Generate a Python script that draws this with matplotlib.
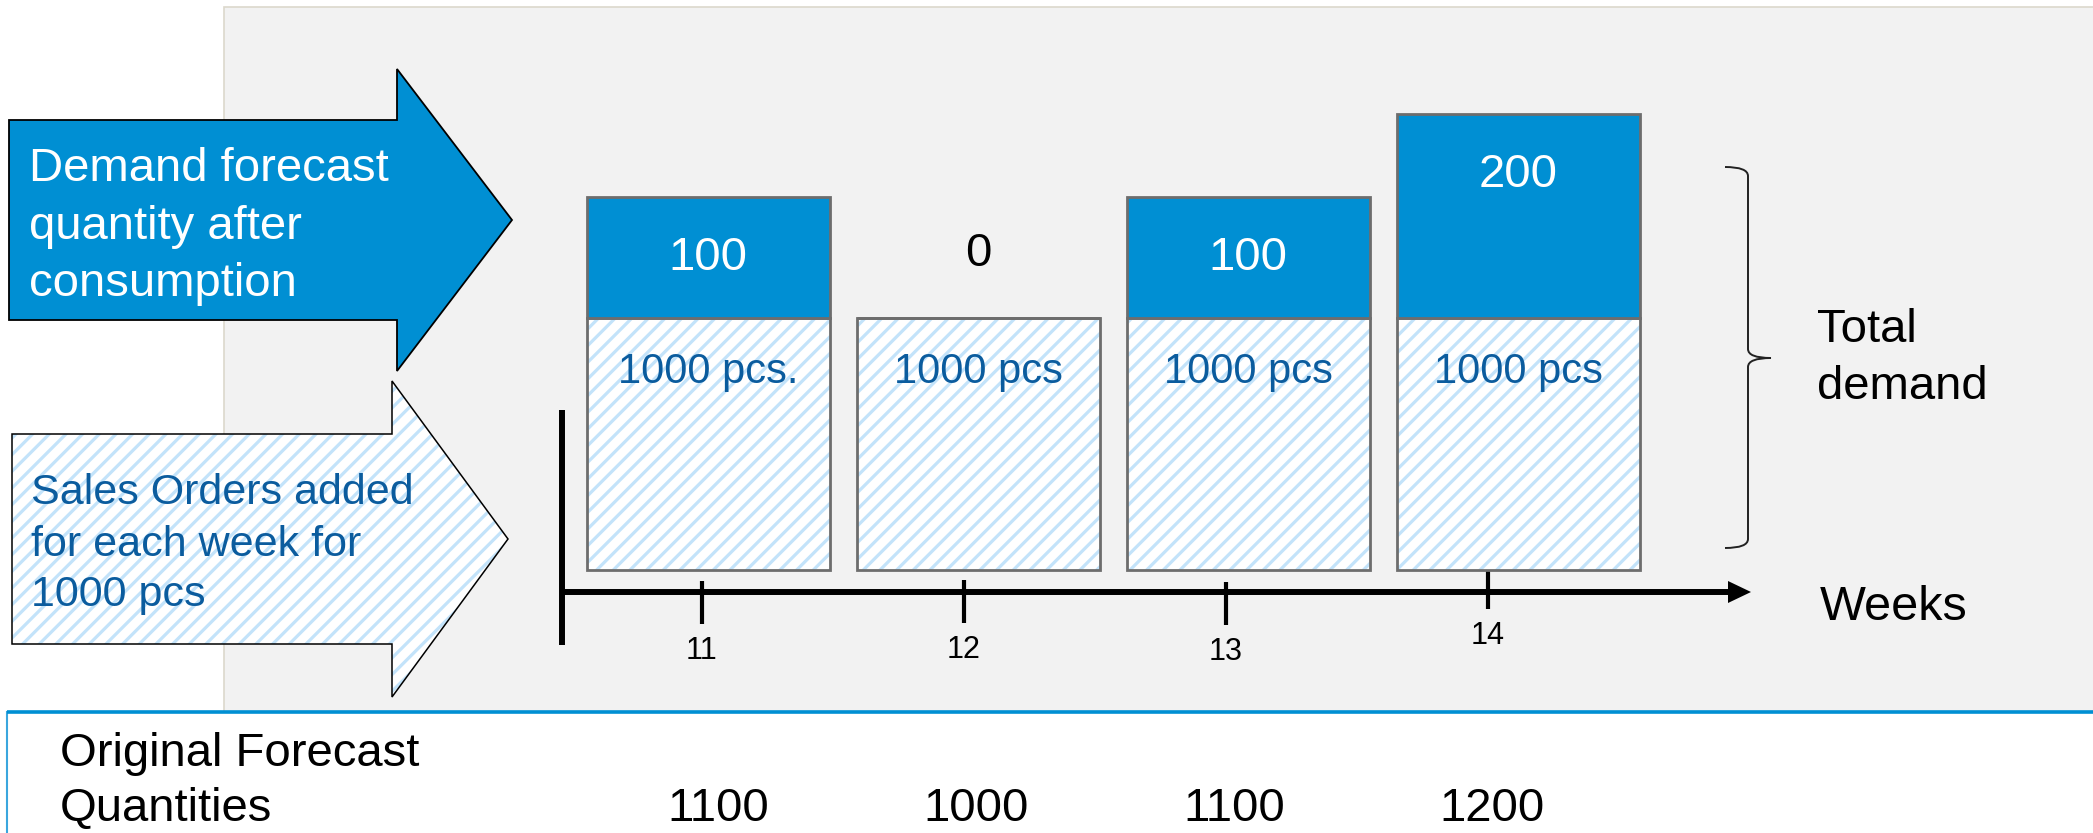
import numpy as np
import matplotlib
matplotlib.use('Agg')
import matplotlib.pyplot as plt
from matplotlib.patches import Polygon, Rectangle, PathPatch
from matplotlib.path import Path

plt.rcParams['font.family'] = ['Liberation Sans', 'DejaVu Sans']
plt.rcParams['hatch.linewidth'] = 2.3

# data
weeks = [11, 12, 13, 14]
sales_orders = [1000, 1000, 1000, 1000]
forecast_left = [100, 0, 100, 200]
sales_labels = ['1000 pcs.', '1000 pcs', '1000 pcs', '1000 pcs']
original_forecast = [1100, 1000, 1100, 1200]

BLUE = '#008fd3'
TEXT_BLUE = '#0b5c9e'
HATCH = '#c3e3fa'
EDGE = '#6d6d6d'

W, H = 2093, 833
fig = plt.figure(figsize=(W / 100, H / 100), dpi=100)
fig.patch.set_facecolor('white')

# pixel axes for the diagram parts
ax = fig.add_axes([0, 0, 1, 1], zorder=0)
ax.set_xlim(0, W)
ax.set_ylim(H, 0)
ax.axis('off')

# grey panel + bottom box
ax.add_patch(Rectangle((224, 7), W, 720, facecolor='#f2f2f2', edgecolor='#dcd8cc', lw=1.2))
ax.add_patch(Rectangle((7, 712), W, 140, facecolor='white', edgecolor='#3aa6de', lw=1.5, zorder=3))
ax.plot([7, W], [712, 712], color=BLUE, lw=2.6, zorder=4, solid_capstyle='butt')

# big arrows
top_arrow = [(9, 120), (397, 120), (397, 69), (512, 220), (397, 371), (397, 320), (9, 320)]
ax.add_patch(Polygon(top_arrow, closed=True, facecolor=BLUE, edgecolor='black', lw=1.3, zorder=1))
low_arrow = [(12, 434), (392, 434), (392, 381), (508, 539), (392, 697), (392, 644), (12, 644)]
ax.add_patch(Polygon(low_arrow, closed=True, facecolor='white', edgecolor='none', zorder=1))
ax.add_patch(Polygon(low_arrow, closed=True, facecolor='none', edgecolor=HATCH, hatch='//', lw=0, zorder=1))
ax.add_patch(Polygon(low_arrow, closed=True, facecolor='none', edgecolor='black', lw=1.1, zorder=1))

for txt, yb in zip(['Demand forecast', 'quantity after', 'consumption'], [181, 239, 296]):
    ax.text(29, yb, txt, color='white', fontsize=34, va='baseline', ha='left', zorder=2)
for txt, yb in zip(['Sales Orders added', 'for each week for', '1000 pcs'], [504, 556, 606]):
    ax.text(31, yb, txt, color=TEXT_BLUE, fontsize=31, va='baseline', ha='left', zorder=2)

# time axis
ax.plot([562, 562], [410, 645], color='black', lw=4.3, solid_capstyle='butt')
ax.plot([562, 1732], [592, 592], color='black', lw=4.3, solid_capstyle='butt')
ax.add_patch(Polygon([(1728, 581), (1751, 592), (1728, 603)], closed=True, facecolor='black', edgecolor='none'))
tick_top = [581, 580, 582, 566]
for i, wk in enumerate(weeks):
    tx = 702 + i * 262
    ax.plot([tx, tx], [tick_top[i], tick_top[i] + 43], color='black', lw=3, solid_capstyle='butt')
    ax.text(tx, tick_top[i] + 70, str(wk), fontsize=22, ha='center', va='center')
ax.text(1820, 620, 'Weeks', fontsize=35, va='baseline')

# brace + total demand
bx0, tip, hook, top, bot, mid = 1748, 1771, 1725, 167, 548, 358
verts = [(hook, top), (bx0, top), (bx0, top + 9), (bx0, mid - 9), (bx0, mid), (tip, mid),
         (bx0, mid), (bx0, mid + 9), (bx0, bot - 9), (bx0, bot), (hook, bot)]
codes = [Path.MOVETO, Path.CURVE3, Path.CURVE3, Path.LINETO, Path.CURVE3, Path.CURVE3,
         Path.CURVE3, Path.CURVE3, Path.LINETO, Path.CURVE3, Path.CURVE3]
ax.add_patch(PathPatch(Path(verts, codes), facecolor='none', edgecolor='#222222', lw=1.4))
ax.text(1817, 342, 'Total', fontsize=34, va='baseline')
ax.text(1817, 399, 'demand', fontsize=34, va='baseline')

# bottom row
ax.text(60, 766, 'Original Forecast', fontsize=34, va='baseline', zorder=5)
ax.text(60, 821, 'Quantities', fontsize=34, va='baseline', zorder=5)
for i, q in enumerate(original_forecast):
    ax.text(718 + i * 258, 821, str(q), fontsize=34, ha='center', va='baseline', zorder=5)

# bars: sales orders linear, remaining forecast compressed on top
P, K = 0.755, 14.8


def fwd(v):
    v = np.asarray(v, float)
    return np.where(v <= 1000, v, 1000 + K * np.clip(v - 1000, 0, None) ** P)


def inv(u):
    u = np.asarray(u, float)
    return np.where(u <= 1000, u, 1000 + (np.clip(u - 1000, 0, None) / K) ** (1 / P))


bx = fig.add_axes([0, 0, 1, 1], zorder=2)
bx.patch.set_visible(False)
bx.axis('off')
bx.set_yscale('function', functions=(fwd, inv))
px_unit, base_px = 0.252, 570
bx.set_ylim(-(H - base_px) / px_unit, float(inv(base_px / px_unit)))
px_week = 270
bx.set_xlim(11 - 708 / px_week, 11 + (W - 708) / px_week)

bx.bar(weeks, sales_orders, width=0.9, color='white', edgecolor=HATCH, hatch='//', linewidth=0)
bx.bar(weeks, sales_orders, width=0.9, fill=False, edgecolor=EDGE, linewidth=2)
bx.bar(weeks, forecast_left, bottom=sales_orders, width=0.9, color=BLUE, edgecolor=EDGE, linewidth=2)

for wk, s, f, lab in zip(weeks, sales_orders, forecast_left, sales_labels):
    bx.annotate(lab, (wk, s), xytext=(0, -54), textcoords='offset pixels',
                ha='center', va='center', fontsize=30, color=TEXT_BLUE)
    if f > 0:
        bx.annotate(str(f), (wk, s + f), xytext=(0, -61), textcoords='offset pixels',
                    ha='center', va='center', fontsize=34, color='white')
    else:
        bx.annotate(str(f), (wk, s), xytext=(0, 64), textcoords='offset pixels',
                    ha='center', va='center', fontsize=34, color='black')

fig.savefig('out.png', dpi=100)
